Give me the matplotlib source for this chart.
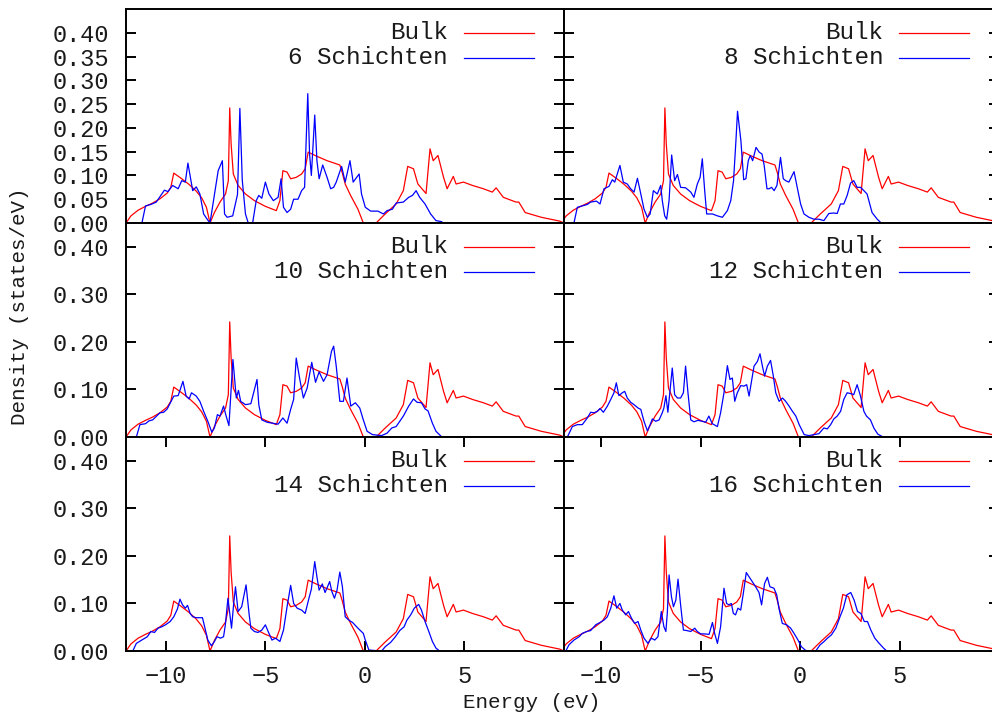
import matplotlib
matplotlib.use("Agg")
import matplotlib.pyplot as plt
import numpy as np

plt.rcParams['font.family'] = ['Liberation Mono', 'DejaVu Sans Mono']

# Bulk DOS (same reference curve in every panel)
bulk_E = [-12.0, -11.75, -11.39, -11.02, -10.66, -10.29, -9.93, -9.75, -9.6,
          -9.2, -8.83, -8.47, -8.2, -7.96, -7.78,
          -7.56, -7.28, -7.0, -6.86, -6.79, -6.72, -6.61, -6.37, -6.0, -5.55,
          -5.0, -4.45, -4.27, -4.12, -3.91, -3.73, -3.45, -3.18, -3.0, -2.85,
          -2.45, -1.9, -1.26, -1.14, -0.99, -0.72, -0.35, -0.08,
          0.56, 1.02, 1.57, 1.93, 2.15, 2.44, 2.66, 3.07, 3.27, 3.43, 3.67,
          3.95, 4.13, 4.44, 4.58, 4.95, 5.4, 5.95, 6.4, 6.59, 6.95, 7.59,
          7.73, 8.05, 8.86, 9.78, 10.0]
bulk_D = [0.0, 0.015, 0.027, 0.035, 0.042, 0.051, 0.063, 0.075, 0.105,
          0.093, 0.081, 0.067, 0.053, 0.033, 0.0,
          0.022, 0.044, 0.061, 0.089, 0.242, 0.166, 0.103, 0.079, 0.061, 0.047,
          0.035, 0.026, 0.047, 0.11, 0.107, 0.093, 0.096, 0.103, 0.114, 0.149,
          0.141, 0.131, 0.122, 0.106, 0.082, 0.058, 0.029, 0.0,
          0.0, 0.019, 0.04, 0.068, 0.119, 0.114, 0.082, 0.062, 0.156, 0.131, 0.142,
          0.096, 0.072, 0.098, 0.082, 0.086, 0.079, 0.072, 0.065, 0.074, 0.054, 0.044,
          0.044, 0.022, 0.012, 0.004, 0.0]

# slabs
e6 = [-11.2, -11.02, -10.75, -10.48, -10.07, -9.89, -9.66, -9.38, -9.2, -9.02,
      -8.89, -8.65, -8.47, -8.29, -8.1, -7.89, -7.78, -7.37, -7.16, -7.05,
      -6.92, -6.64, -6.4, -6.28, -6.16, -6.0, -5.86, -5.64, -5.46, -5.33,
      -5.18, -5.0, -4.82, -4.6, -4.36, -4.21, -4.09, -3.91, -3.73, -3.58,
      -3.36, -3.18, -3.03, -2.87, -2.78, -2.69, -2.52, -2.41, -2.3, -2.12,
      -1.9, -1.72, -1.57, -1.44, -1.17, -0.99, -0.75, -0.59, -0.29, -0.17,
      0.02, 0.29, 0.65, 0.93, 1.11, 1.38, 1.57, 1.93, 2.2, 2.39, 2.57, 2.75,
      3.02, 3.3, 3.57, 3.84, 3.93]
d6 = [0.0, 0.036, 0.039, 0.044, 0.069, 0.066, 0.079, 0.072, 0.089, 0.086,
      0.126, 0.068, 0.076, 0.061, 0.019, 0.006, 0.0, 0.11, 0.131, 0.019,
      0.012, 0.015, 0.06, 0.241, 0.09, 0.019, 0.0, 0.0, 0.047, 0.058,
      0.052, 0.086, 0.061, 0.047, 0.054, 0.093, 0.033, 0.022, 0.029, 0.05,
      0.05, 0.068, 0.075, 0.272, 0.145, 0.1, 0.227, 0.131, 0.093, 0.122,
      0.096, 0.072, 0.075, 0.086, 0.119, 0.086, 0.131, 0.086, 0.103, 0.061,
      0.033, 0.025, 0.025, 0.019, 0.026, 0.029, 0.042, 0.044, 0.054, 0.058, 0.068, 0.054,
      0.04, 0.019, 0.005, 0.003, 0.0]

e8 = [-11.36, -11.19, -10.94, -10.69, -10.52, -10.23, -10.05, -9.85, -9.6, -9.43,
      -9.31, -9.05, -8.88, -8.68, -8.51, -8.34, -8.17, -8.0, -7.84, -7.67,
      -7.53, -7.37, -7.17, -7.0, -6.92, -6.8, -6.7, -6.58, -6.45, -6.3,
      -6.16, -6.0, -5.75, -5.49, -5.33, -5.16, -5.02, -4.91, -4.79, -4.69,
      -4.4, -4.15, -3.9, -3.65, -3.48, -3.34, -3.22, -3.14, -2.97, -2.83,
      -2.72, -2.6, -2.5, -2.38, -2.21, -2.05, -1.91, -1.8, -1.66, -1.55,
      -1.43, -1.3, -1.16, -0.98, -0.84, -0.72, -0.56, -0.3, -0.14, 0.03,
      0.2, 0.45, 0.7, 0.95, 1.2, 1.45, 1.7, 1.87, 2.03, 2.2, 2.37, 2.54,
      2.7, 2.87, 3.04, 3.21, 3.37, 3.62, 3.88, 4.08]
d8 = [0.0, 0.033, 0.036, 0.039, 0.044, 0.046, 0.04, 0.072, 0.077, 0.091,
      0.086, 0.121, 0.086, 0.082, 0.072, 0.065, 0.094, 0.061, 0.029, 0.012,
      0.019, 0.068, 0.061, 0.079, 0.047, 0.015, 0.008, 0.047, 0.143, 0.089,
      0.102, 0.075, 0.074, 0.065, 0.054, 0.082, 0.096, 0.135, 0.068, 0.019,
      0.019, 0.015, 0.012, 0.026, 0.047, 0.089, 0.173, 0.235, 0.173, 0.091,
      0.093, 0.131, 0.142, 0.131, 0.159, 0.149, 0.145, 0.121, 0.072, 0.072,
      0.075, 0.068, 0.079, 0.138, 0.093, 0.089, 0.086, 0.108, 0.075, 0.04,
      0.019, 0.012, 0.008, 0.008, 0.005, 0.02, 0.021, 0.02, 0.04, 0.04, 0.058, 0.084,
      0.089, 0.075, 0.075, 0.068, 0.061, 0.022, 0.008, 0.0]

e10 = [-11.48, -11.3, -11.02, -10.84, -10.66, -10.29, -10.11, -9.93, -9.6, -9.38,
       -9.14, -8.98, -8.83, -8.71, -8.47, -8.29, -8.1, -7.89, -7.69, -7.56,
       -7.41, -7.28, -7.1, -6.97, -6.83, -6.63, -6.46, -6.35, -6.24, -6.0,
       -5.73, -5.42, -5.33, -5.18, -4.91, -4.64, -4.36, -4.12, -3.91, -3.73,
       -3.58, -3.45, -3.27, -3.09, -2.9, -2.67, -2.48, -2.3, -2.08, -1.9,
       -1.68, -1.57, -1.44, -1.26, -1.08, -0.9, -0.71, -0.48, -0.26, -0.08,
       0.11, 0.38, 0.84, 1.11, 1.35, 1.57, 1.93, 2.2, 2.44, 2.62, 2.84, 3.02,
       3.17, 3.39, 3.57, 3.84]
d10 = [0.0, 0.026, 0.028, 0.034, 0.036, 0.051, 0.052, 0.059, 0.086, 0.087,
       0.117, 0.086, 0.08, 0.093, 0.086, 0.075, 0.054, 0.033, 0.01, 0.019,
       0.047, 0.044, 0.065, 0.044, 0.024, 0.163, 0.082, 0.098, 0.075, 0.068,
       0.07, 0.121, 0.068, 0.036, 0.031, 0.029, 0.027, 0.04, 0.029, 0.058,
       0.079, 0.166, 0.121, 0.082, 0.103, 0.157, 0.115, 0.137, 0.117, 0.131,
       0.18, 0.191, 0.149, 0.075, 0.075, 0.124, 0.065, 0.072, 0.061, 0.036,
       0.012, 0.005, 0.003, 0.008, 0.019, 0.022, 0.044, 0.065, 0.08, 0.073, 0.072, 0.059,
       0.055, 0.029, 0.012, 0.001]

e12 = [-11.69, -11.44, -11.19, -10.94, -10.69, -10.52, -10.35, -10.18, -10.05, -9.88,
       -9.68, -9.51, -9.35, -9.23, -9.1, -8.93, -8.81, -8.68, -8.51, -8.34,
       -8.14, -8.0, -7.84, -7.67, -7.53, -7.42, -7.25, -7.08, -6.92, -6.84,
       -6.74, -6.64, -6.42, -6.3, -6.16, -6.0, -5.86, -5.75, -5.63, -5.49,
       -5.33, -5.13, -4.91, -4.74, -4.58, -4.41, -4.15, -3.99, -3.82, -3.65,
       -3.52, -3.4, -3.28, -3.15, -2.98, -2.82, -2.68, -2.56, -2.45, -2.31,
       -2.14, -2.01, -1.89, -1.78, -1.64, -1.48, -1.34, -1.22, -1.05, -0.88,
       -0.72, -0.55, -0.38, -0.21, -0.04, 0.21, 0.45, 0.7, 0.95, 1.2, 1.37,
       1.54, 1.7, 1.87, 2.04, 2.2, 2.37, 2.57, 2.7, 2.87, 3.04, 3.21, 3.34,
       3.54, 3.71, 3.91, 4.13]
d12 = [0.0, 0.022, 0.026, 0.026, 0.04, 0.052, 0.051, 0.054, 0.06, 0.052,
       0.065, 0.079, 0.093, 0.114, 0.087, 0.093, 0.096, 0.082, 0.073, 0.068,
       0.061, 0.058, 0.033, 0.013, 0.026, 0.038, 0.033, 0.036, 0.051, 0.061,
       0.087, 0.052, 0.145, 0.089, 0.082, 0.082, 0.093, 0.149, 0.093, 0.036,
       0.032, 0.035, 0.033, 0.031, 0.044, 0.028, 0.022, 0.051, 0.093, 0.15,
       0.121, 0.124, 0.075, 0.093, 0.108, 0.107, 0.11, 0.086, 0.114, 0.149,
       0.159, 0.175, 0.149, 0.128, 0.149, 0.161, 0.128, 0.093, 0.075, 0.082,
       0.075, 0.065, 0.054, 0.044, 0.026, 0.005, 0.003, 0.005, 0.007, 0.019, 0.017,
       0.026, 0.038, 0.044, 0.054, 0.079, 0.093, 0.091, 0.089, 0.11, 0.086, 0.054, 0.044,
       0.036, 0.019, 0.006, 0.001]

e14 = [-11.66, -11.48, -11.21, -10.93, -10.75, -10.57, -10.39, -10.2, -10.02, -9.78,
       -9.6, -9.42, -9.29, -9.16, -9.02, -8.91, -8.78, -8.65, -8.47, -8.29,
       -8.16, -8.01, -7.89, -7.71, -7.56, -7.43, -7.25, -7.1, -7.01, -6.88,
       -6.7, -6.59, -6.5, -6.37, -6.19, -5.97, -5.82, -5.73, -5.55, -5.37,
       -5.18, -5.0, -4.86, -4.67, -4.49, -4.27, -4.09, -3.91, -3.73, -3.58,
       -3.4, -3.18, -3.0, -2.81, -2.69, -2.52, -2.41, -2.3, -2.14, -2.0,
       -1.77, -1.66, -1.53, -1.4, -1.26, -1.13, -0.99, -0.81, -0.62, -0.35,
       -0.08, 0.02, 0.2, 0.84, 1.02, 1.29, 1.53, 1.75, 1.97, 2.11, 2.3, 2.48,
       2.7, 2.84, 3.02, 3.21, 3.39, 3.57, 3.75]
d14 = [0.0, 0.016, 0.023, 0.03, 0.041, 0.039, 0.048, 0.051, 0.055, 0.062,
       0.072, 0.088, 0.109, 0.097, 0.09, 0.096, 0.079, 0.072, 0.07, 0.07,
       0.07, 0.044, 0.023, 0.011, 0.02, 0.03, 0.027, 0.03, 0.055, 0.111,
       0.048, 0.1, 0.135, 0.083, 0.093, 0.139, 0.079, 0.048, 0.041, 0.039,
       0.044, 0.055, 0.041, 0.023, 0.027, 0.02, 0.044, 0.093, 0.138, 0.1,
       0.09, 0.086, 0.079, 0.111, 0.13, 0.188, 0.156, 0.128, 0.141, 0.123,
       0.146, 0.125, 0.111, 0.128, 0.166, 0.135, 0.072, 0.065, 0.06, 0.048,
       0.037, 0.023, 0.002, 0.0, 0.009, 0.018, 0.03, 0.043, 0.051, 0.065, 0.076, 0.09,
       0.098, 0.086, 0.062, 0.041, 0.02, 0.006, 0.0]

e16 = [-11.77, -11.61, -11.36, -11.1, -10.94, -10.72, -10.52, -10.27, -10.05, -9.85,
       -9.68, -9.51, -9.35, -9.21, -9.05, -8.93, -8.76, -8.62, -8.47, -8.31,
       -8.14, -8.0, -7.84, -7.64, -7.47, -7.3, -7.14, -6.97, -6.84, -6.74,
       -6.67, -6.58, -6.46, -6.36, -6.24, -6.13, -5.99, -5.86, -5.69, -5.49,
       -5.29, -5.16, -4.99, -4.82, -4.57, -4.4, -4.29, -4.15, -3.99, -3.82,
       -3.69, -3.57, -3.45, -3.35, -3.24, -3.12, -2.98, -2.85, -2.7, -2.56,
       -2.4, -2.23, -2.06, -1.93, -1.78, -1.64, -1.51, -1.31, -1.17, -1.06,
       -0.89, -0.67, -0.47, -0.3, -0.1, 0.07, 0.29, 0.79, 1.01, 1.21, 1.38,
       1.58, 1.8, 2.01, 2.18, 2.35, 2.55, 2.72, 2.89, 3.06, 3.23, 3.39, 3.56,
       3.76, 3.98, 4.2, 4.36]
d16 = [0.0, 0.013, 0.023, 0.03, 0.037, 0.041, 0.043, 0.055, 0.06, 0.065,
       0.072, 0.09, 0.116, 0.09, 0.1, 0.086, 0.076, 0.083, 0.069, 0.058,
       0.062, 0.044, 0.027, 0.016, 0.027, 0.023, 0.03, 0.083, 0.051, 0.041,
       0.079, 0.16, 0.114, 0.093, 0.107, 0.151, 0.093, 0.044, 0.043, 0.041,
       0.048, 0.041, 0.036, 0.036, 0.035, 0.06, 0.037, 0.016, 0.051, 0.132,
       0.1, 0.097, 0.1, 0.079, 0.076, 0.09, 0.086, 0.121, 0.165, 0.156,
       0.146, 0.135, 0.123, 0.097, 0.142, 0.155, 0.135, 0.132, 0.118, 0.09,
       0.058, 0.055, 0.048, 0.037, 0.023, 0.009, 0.001, 0.0, 0.013, 0.02, 0.027,
       0.034, 0.048, 0.072, 0.09, 0.118, 0.123, 0.107, 0.083, 0.079, 0.062, 0.062, 0.044,
       0.027, 0.016, 0.006, 0.0]

slab_labels = ["6 Schichten", "8 Schichten", "10 Schichten",
               "12 Schichten", "14 Schichten", "16 Schichten"]
slab_E = [e6, e8, e10, e12, e14, e16]
slab_D = [d6, d8, d10, d12, d14, d16]

W, H = 992, 713
fig = plt.figure(figsize=(W / 100, H / 100), dpi=100)

# panel geometry in pixels (right column runs a bit past the image edge)
col_left = [126 / W, 564 / W]
col_width = [438 / W, 435 / W]
col_xlim = [(-12, 10), (-11.86, 10)]
row_h_px = 214
row_bottom = [1 - 223 / H, 1 - 437 / H, 1 - 651 / H]
row_h = row_h_px / H

for k in range(6):
    r, c = divmod(k, 2)
    ax = fig.add_axes([col_left[c], row_bottom[r], col_width[c], row_h])
    ax.plot(bulk_E, bulk_D, color='#ff0000', lw=0.9)
    ax.plot(slab_E[k], slab_D[k], color='#0000ff', lw=0.9)
    ax.set_xlim(*col_xlim[c])
    ax.set_ylim(0, 0.45)
    for s in ax.spines.values():
        s.set_linewidth(1.4)

    if r == 0:
        yt = np.arange(0, 0.401, 0.05)
    else:
        yt = np.arange(0, 0.401, 0.1)
    ax.set_yticks(yt)
    ax.set_yticklabels(["%.2f" % v for v in yt])

    if r == 2:
        ax.set_xticks([-10, -5, 0, 5])
        ax.tick_params(axis='x', direction='in', top=True, bottom=True,
                       length=7.5, width=1.4, labelsize=17, pad=10,
                       labelcolor='#1a1a1a')
    else:
        ax.set_xticks([])
    ax.tick_params(axis='y', direction='in', left=True, right=True,
                   length=7.5, width=1.4, labelsize=17, pad=12,
                   labelleft=(c == 0), labelcolor='#1a1a1a')

    # key, gnuplot style: text right-aligned, sample line after it
    wpx = col_width[c] * W
    ax.text(1 - 116 / wpx, 1 - 23.5 / row_h_px, "Bulk", color='#1a1a1a',
            transform=ax.transAxes, ha='right', va='center', fontsize=17.5)
    ax.text(1 - 116 / wpx, 1 - 48.5 / row_h_px, slab_labels[k], color='#1a1a1a',
            transform=ax.transAxes, ha='right', va='center', fontsize=17.5)
    x1 = 1 - 100 / wpx
    x2 = 1 - 30 / wpx
    for yy, col in [(23.5, '#ff0000'), (48.5, '#0000ff')]:
        ax.plot([x1, x2], [1 - yy / row_h_px] * 2, color=col, lw=0.9,
                transform=ax.transAxes, clip_on=False)

fig.text(20 / W, 1 - 306 / H, "Density (states/eV)", rotation=90,
         ha='center', va='center', fontsize=15, color='#1a1a1a')
fig.text(532 / W, 1 - 702 / H, "Energy (eV)", ha='center', va='center',
         fontsize=15, color='#1a1a1a')

fig.savefig("out.png", dpi=100)
